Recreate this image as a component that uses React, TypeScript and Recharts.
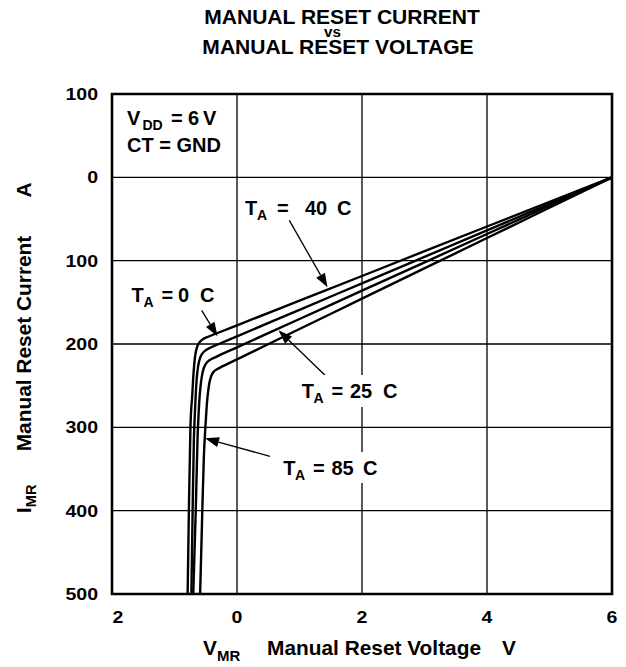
import React from 'react';
import { LineChart, Line, XAxis, YAxis, CartesianGrid, ReferenceLine, ReferenceArea } from 'recharts';

// ---- data ----
const xTicks = [-2, 0, 2, 4, 6];
const yTicks = [100, 0, -100, -200, -300, -400, -500];

// T_A = -40 C
const curveM40 = [
  { v: 6, i: 0 }, { v: 4, i: -59 }, { v: 2, i: -118.4 }, { v: 1, i: -148 }, { v: 0, i: -177.6 },
  { v: -0.3, i: -186.5 }, { v: -0.46, i: -191.3 }, { v: -0.55, i: -194.5 }, { v: -0.6, i: -198 },
  { v: -0.64, i: -204 }, { v: -0.665, i: -212 }, { v: -0.685, i: -225 }, { v: -0.7, i: -240 },
  { v: -0.715, i: -260 }, { v: -0.745, i: -300 }, { v: -0.77, i: -400 }, { v: -0.79, i: -500 },
];
// T_A = 0 C
const curve0 = [
  { v: 6, i: 0 }, { v: 4, i: -63.6 }, { v: 2, i: -127.2 }, { v: 1, i: -159 }, { v: 0, i: -190.8 },
  { v: -0.3, i: -200.3 }, { v: -0.42, i: -204.2 }, { v: -0.5, i: -207.5 }, { v: -0.56, i: -212 },
  { v: -0.6, i: -219 }, { v: -0.625, i: -228 }, { v: -0.645, i: -242 }, { v: -0.66, i: -260 },
  { v: -0.675, i: -285 }, { v: -0.69, i: -315 }, { v: -0.71, i: -400 }, { v: -0.73, i: -500 },
];
// T_A = 25 C
const curve25 = [
  { v: 6, i: 0 }, { v: 4, i: -68 }, { v: 2, i: -136 }, { v: 1, i: -170 }, { v: 0, i: -204 },
  { v: -0.3, i: -214.2 }, { v: -0.38, i: -217 }, { v: -0.45, i: -220 }, { v: -0.5, i: -224 },
  { v: -0.54, i: -231 }, { v: -0.565, i: -240 }, { v: -0.585, i: -252 }, { v: -0.6, i: -265 },
  { v: -0.615, i: -285 }, { v: -0.63, i: -310 }, { v: -0.66, i: -400 }, { v: -0.7, i: -500 },
];
// T_A = 85 C
const curve85 = [
  { v: 6, i: 0 }, { v: 4, i: -72.8 }, { v: 2, i: -145.6 }, { v: 1, i: -182 }, { v: 0, i: -218.4 },
  { v: -0.25, i: -227.5 }, { v: -0.32, i: -230.3 }, { v: -0.37, i: -233 }, { v: -0.41, i: -238 },
  { v: -0.44, i: -246 }, { v: -0.46, i: -256 }, { v: -0.48, i: -270 }, { v: -0.495, i: -287 },
  { v: -0.51, i: -305 }, { v: -0.53, i: -335 }, { v: -0.555, i: -400 }, { v: -0.59, i: -500 },
];

// annotation arrows (tail -> tip), data coordinates
const arrowM40 = [{ x: 0.837, y: -51.6 }, { x: 1.448, y: -132 }];
const arrow0 = [{ x: -0.565, y: -159.6 }, { x: -0.312, y: -190.8 }];
const arrow25 = [{ x: 1.408, y: -237.6 }, { x: 0.664, y: -183.6 }];
const arrow85 = [{ x: 0.528, y: -334.8 }, { x: -0.512, y: -313.2 }];

const FONT = "'Liberation Sans', Arial, Helvetica, sans-serif";
const fmt = (v: number) => String(Math.abs(v));

const XTick = (props: any) => {
  const { x, y, payload } = props;
  const shift = payload.value < 0 ? 6 : 0;
  return (
    <text transform={`translate(${x + shift},${y}) scale(1.15,1)`} textAnchor="middle" dy="0.71em"
      fontSize={17} fontWeight={700} fontFamily={FONT} fill="#000">{fmt(payload.value)}</text>
  );
};
const YTick = (props: any) => {
  const { x, y, payload } = props;
  return (
    <text transform={`translate(${x},${y}) scale(1.15,1)`} textAnchor="end" dy="0.355em"
      fontSize={17} fontWeight={700} fontFamily={FONT} fill="#000">{fmt(payload.value)}</text>
  );
};

const ArrowShape = (props: any) => {
  const { x1, y1, x2, y2 } = props;
  const dx = x2 - x1, dy = y2 - y1;
  const len = Math.hypot(dx, dy) || 1;
  const ux = dx / len, uy = dy / len;
  const hl = 14, hw = 5;
  const bx = x2 - ux * hl, by = y2 - uy * hl;
  const px = -uy, py = ux;
  return (
    <g>
      <line x1={x1} y1={y1} x2={bx} y2={by} stroke="#000" strokeWidth={1.3} />
      <polygon points={`${x2},${y2} ${bx + px * hw},${by + py * hw} ${bx - px * hw},${by - py * hw}`} fill="#000" />
    </g>
  );
};

const TLabel = ({ t, a, eq, num, c, y }: { t: number; a: number; eq: number; num: [number, string]; c: number; y: number }) => (
  <text y={y} fontSize={20}>
    <tspan x={t}>T</tspan>
    <tspan x={a} dy={5} fontSize={14}>A</tspan>
    <tspan x={eq} dy={-5}>=</tspan>
    <tspan x={num[0]}>{num[1]}</tspan>
    <tspan x={c}>C</tspan>
  </text>
);

export default function App() {
  const lineCommon = { type: 'monotone' as const, dataKey: 'i', stroke: '#000', strokeWidth: 2.4, dot: false, isAnimationActive: false, activeDot: false };
  return (
    <div style={{ position: 'absolute', left: 0, top: 0, width: 626, height: 667, background: '#fff' }}>
      <div style={{ position: 'absolute', left: 0, top: 0 }}>
        <LineChart width={626} height={667} margin={{ top: 94, right: 14, bottom: 43, left: 52 }}>
          <CartesianGrid stroke="#000" strokeWidth={1.3} />
          <XAxis type="number" dataKey="v" domain={[-2, 6]} ticks={xTicks} allowDataOverflow
            axisLine={false} tickLine={false} tickSize={6} tickMargin={11} height={30} tick={<XTick />} interval={0} />
          <YAxis type="number" domain={[-500, 100]} ticks={yTicks} allowDataOverflow
            axisLine={false} tickLine={false} tickSize={6} tickMargin={8} width={60} tick={<YTick />} interval={0} />
          <Line {...lineCommon} data={curveM40} />
          <Line {...lineCommon} data={curve0} />
          <Line {...lineCommon} data={curve25} />
          <Line {...lineCommon} data={curve85} />
          <ReferenceLine segment={arrowM40} shape={ArrowShape} ifOverflow="visible" />
          <ReferenceLine segment={arrow0} shape={ArrowShape} ifOverflow="visible" />
          <ReferenceLine segment={arrow25} shape={ArrowShape} ifOverflow="visible" />
          <ReferenceLine segment={arrow85} shape={ArrowShape} ifOverflow="visible" />
          <ReferenceArea x1={-2} x2={6} y1={-500} y2={100} fill="none" fillOpacity={0} stroke="#000" strokeWidth={2.6} ifOverflow="visible" />
        </LineChart>
      </div>
      <svg width={626} height={667} style={{ position: 'absolute', left: 0, top: 0, pointerEvents: 'none' }}>
        <g fontFamily={FONT} fontWeight={700} fill="#000">
          {/* title */}
          <text transform="translate(342,24) scale(1.08,1)" textAnchor="middle" fontSize={19.5}>MANUAL RESET CURRENT</text>
          <text transform="translate(332.5,37) scale(1.08,1)" textAnchor="middle" fontSize={14}>vs</text>
          <text transform="translate(338,54) scale(1.08,1)" textAnchor="middle" fontSize={19.5}>MANUAL RESET VOLTAGE</text>

          {/* y axis label */}
          <text transform="translate(31,513) rotate(-90) scale(1.05,1)" textAnchor="start" fontSize={19.5}>
            I<tspan dy={5} fontSize={14}>MR</tspan>
          </text>
          <text transform="translate(31,343.5) rotate(-90) scale(1.07,1)" textAnchor="middle" fontSize={19.5}>Manual Reset Current</text>
          <text transform="translate(31,190) rotate(-90) scale(1.07,1)" textAnchor="middle" fontSize={19.5}>A</text>

          {/* x axis label */}
          <text transform="translate(203,655) scale(1.07,1)" fontSize={19.5}>
            V<tspan dy={6} fontSize={14}>MR</tspan>
          </text>
          <text transform="translate(267,655) scale(1.07,1)" fontSize={19.5}>Manual Reset Voltage</text>
          <text transform="translate(502,655) scale(1.07,1)" fontSize={19.5}>V</text>

          {/* conditions */}
          <text y={125} fontSize={20}>
            <tspan x={127}>V</tspan>
            <tspan x={142.5} dy={5} fontSize={14}>DD</tspan>
            <tspan x={171} dy={-5}>=</tspan>
            <tspan x={188}>6</tspan>
            <tspan x={203}>V</tspan>
          </text>
          <text x={127} y={152} fontSize={20}>CT = GND</text>

          {/* curve labels */}
          <TLabel t={245} a={257} eq={277} num={[305, '40']} c={337} y={215} />
          <TLabel t={131.5} a={143.5} eq={161.5} num={[178, '0']} c={200} y={301.7} />
          <rect x={298} y={375} width={104} height={32} fill="#fff" />
          <TLabel t={301.7} a={313.5} eq={331.5} num={[350, '25']} c={383} y={398.3} />
          <rect x={279} y={452} width={102} height={31} fill="#fff" />
          <TLabel t={283.3} a={295} eq={313} num={[331.5, '85']} c={363} y={475} />
        </g>
      </svg>
    </div>
  );
}
